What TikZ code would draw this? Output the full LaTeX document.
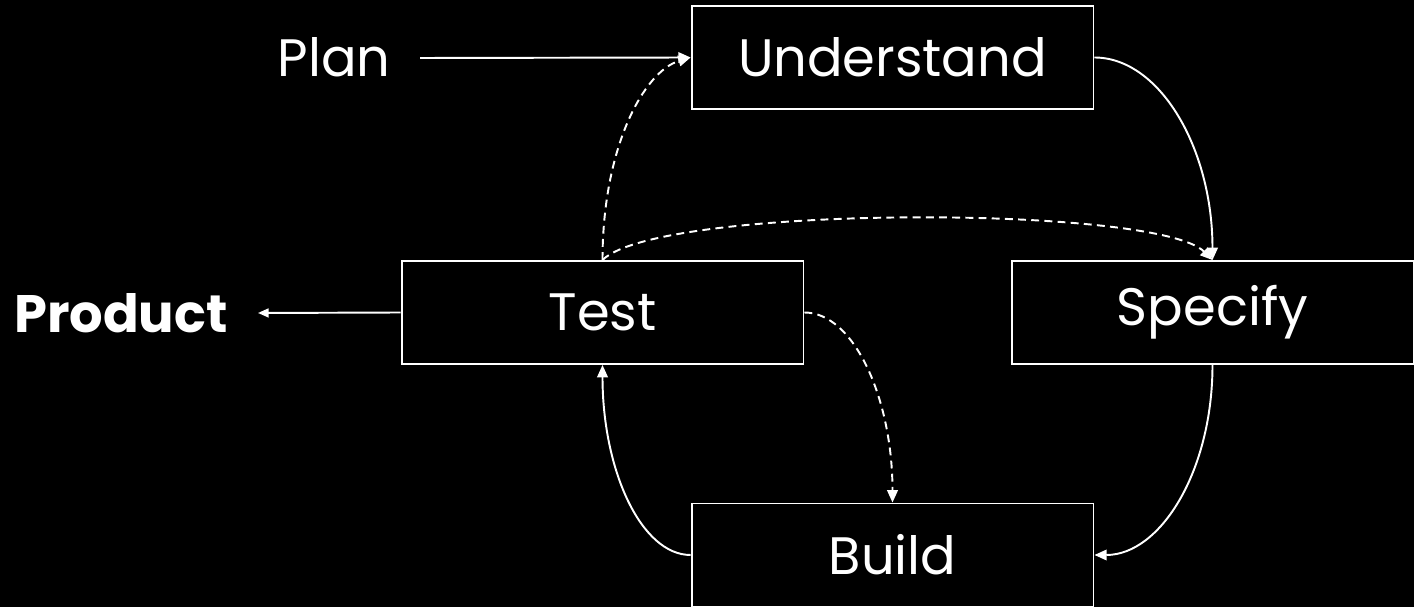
\documentclass[tikz,border=0pt]{standalone}
\usepackage{fontspec}
\setmainfont{Poppins}
\usetikzlibrary{arrows.meta}
\begin{document}
\begin{tikzpicture}[
  x=0.02cm, y=-0.02cm,
  line width=1.1pt, white,
  stagebox/.style={draw=white, line width=1.1pt, minimum width=8.04cm, minimum height=2.06cm,
    inner sep=0pt, font=\fontsize{30}{30}\selectfont, text=white},
  lbl/.style={font=\fontsize{30}{30}\selectfont, text=white, inner sep=0pt},
  flow/.style={draw=white, line width=1.1pt, -{Triangle[length=7pt,width=6pt]}},
  loop/.style={flow, dash pattern=on 4.5pt off 3pt},
]
\fill[black] (0,0) rectangle (1414,607);
\useasboundingbox (0,0) rectangle (1414,607);

\node[stagebox] (U) at (892.5,57.5) {Understand};
\node[stagebox] (T) at (602.5,312.5) {Test};
\node[stagebox] (S) at (1212.5,312.5) {Specify};
\node[stagebox] (B) at (892.5,555) {Build};

\node[lbl] (plan) at (334,57) {Plan};
\node[lbl, font=\fontsize{30}{30}\selectfont\bfseries] (prod) at (121,313) {Product};

\coordinate (planend) at (420,58);
\coordinate (prodend) at (258,313);

% main cycle (quarter-ellipse arcs between the boxes)
\draw[flow] (planend) -- (U.west);
\draw[flow] (U.east) .. controls +(65,0) and +(0,-112) .. (S.north);
\draw[flow] (S.south) .. controls +(0,106) and +(66,0) .. (B.east);
\draw[flow] (B.west) .. controls +(-49,0) and +(0,106) .. (T.south);
\draw[flow, -{Triangle[length=6pt,width=5pt]}] (T.west) -- (prodend);

% feedback loops from testing
\draw[loop] (T.east) .. controls +(49,0) and +(0,-105) .. (B.north);
\draw[loop] (T.north) .. controls +(0,-112) and +(-47,14) .. (U.west);
\draw[loop] (T.north) to[out=45, in=135, looseness=0.33] (S.north);
\end{tikzpicture}
\end{document}
